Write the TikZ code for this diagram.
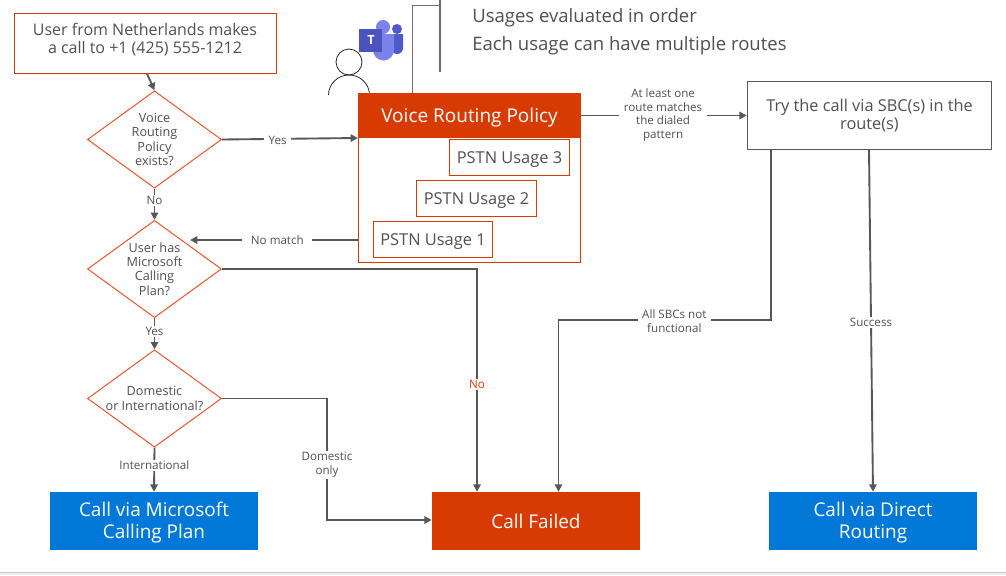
\documentclass[tikz,border=0pt]{standalone}
\usepackage{fontspec}
\setmainfont{Open Sans}
\usetikzlibrary{shapes.geometric,arrows.meta}
\definecolor{lineg}{HTML}{595659}
\definecolor{redor}{HTML}{D83B01}
\definecolor{msblue}{HTML}{0078D7}
\definecolor{txtg}{HTML}{505050}
\definecolor{dred}{HTML}{E8582A}
\definecolor{t1}{HTML}{7B83EB}
\definecolor{t2}{HTML}{5059C9}
\definecolor{t3}{HTML}{4B53BC}
\newcommand{\lowered}[2]{\raisebox{-#1}[0pt][0pt]{#2}}
\tikzset{
 boxtext/.style={text=txtg,font=\fontsize{12}{14}\selectfont,align=center,inner sep=0pt,yshift=3pt},
 decide/.style={diamond,draw=dred,line width=0.75pt,fill=white,inner sep=0pt,minimum width=100.5pt,minimum height=73pt},
 decidetext/.style={text=txtg,font=\fontsize{9.5}{10.8}\selectfont,align=center,inner sep=0pt},
 flow/.style={draw=lineg,line width=1.4pt,-{Triangle[length=5.5pt,width=5.5pt]}},
 lab/.style={fill=white,text=txtg,font=\fontsize{8.7}{10.2}\selectfont,align=center,inner xsep=3.5pt,inner ysep=1pt,yshift=-1pt},
 term/.style={fill=#1,inner sep=0pt,minimum width=156pt,minimum height=43.5pt},
 termtext/.style={text=white,font=\fontsize{14.2}{16.6}\selectfont,align=center,inner sep=0pt,yshift=-1.1pt},
 usage/.style={draw=redor,line width=0.75pt,fill=white,text=txtg,font=\fontsize{12.3}{14}\selectfont,inner sep=0pt,minimum width=89.5pt,minimum height=26.5pt},
}
\begin{document}
\begin{tikzpicture}[x=0.75pt,y=-0.75pt]
\useasboundingbox (0,0) rectangle (1006,575);
\fill[white] (0,0) rectangle (1006,575);
\fill[black!6] (0,572) rectangle (1006,575);
\draw[black!22,line width=0.75pt] (0,572) -- (1006,572);
% bracket and note
\draw[gray!85!black,line width=0.8pt] (412.5,93) -- (412.5,5.5) -- (440,5.5);
\draw[gray!85!black,line width=1pt] (440,0) -- (440,72);
\node[anchor=west,text=txtg,font=\fontsize{13.9}{21}\selectfont,align=left,inner sep=0pt] (note) at (472,32) {Usages evaluated in order\\Each usage can have multiple routes};
% person
\draw[black!85,line width=0.6pt] (349,62) circle (13);
\draw[black!85,line width=0.6pt] (328.5,95) arc[start angle=180,end angle=360,x radius=20.5,y radius=20];
% teams icon
\fill[t2] (392,34) -- (403,34) -- (403,48) arc[start angle=0,end angle=180,radius=6] -- cycle;
\fill[t2] (397,29) circle (5);
\fill[t1] (373,34) -- (394,34) -- (394,50) arc[start angle=0,end angle=180,radius=10.5] -- cycle;
\fill[t1] (383,27) circle (7);
\fill[t3] (359,29) -- (382,29) -- (382,52) -- (359,52) -- cycle;
\node[text=white,font=\fontsize{9.5}{9.5}\bfseries\selectfont,inner sep=0pt] (teamsT) at (371,40) {T};
% boxes
\node[draw=redor,line width=0.75pt,fill=white,minimum width=196.5pt,minimum height=44.5pt,inner sep=0pt,
  label={[boxtext]center:User from Netherlands makes\\a call to +1 (425) 555-1212}] (start) at (145,43.5) {};
\node[decide,label={[decidetext]center:Voice\\Routing\\Policy\\exists?}] (d1) at (154.5,139.5) {};
\node[decide,label={[decidetext]center:User has\\Microsoft\\Calling\\Plan?}] (d2) at (154.5,269) {};
\node[decide,label={[decidetext]center:Domestic\\or International?}] (d3) at (154.5,398.5) {};
\node[draw=redor,line width=0.75pt,fill=white,minimum width=166.5pt,minimum height=127pt,inner sep=0pt] (body) at (469.5,178) {};
\node[fill=redor,text=white,font=\fontsize{14.25}{16}\selectfont,minimum width=167pt,minimum height=34pt,inner sep=0pt] (vrp) at (469.5,115.5) {\lowered{5pt}{Voice Routing Policy}};
\node[usage] (u3) at (509.5,157.5) {\lowered{4.4pt}{PSTN Usage 3}};
\node[usage] (u2) at (476.5,198.5) {\lowered{4.4pt}{PSTN Usage 2}};
\node[usage] (u1) at (433,239.5) {\lowered{4.4pt}{PSTN Usage 1}};
\node[draw=lineg,line width=0.6pt,fill=white,text=txtg,font=\fontsize{12.25}{14}\selectfont,align=center,inner sep=0pt,minimum width=183.5pt,minimum height=51.5pt] (try) at (869.5,115.5) {Try the call via SBC(s) in the\\route(s)};
\node[term=msblue,label={[termtext]center:Call via Microsoft\\Calling Plan}] (blue1) at (154,521) {};
\node[term=redor,label={[termtext,yshift=1pt]center:Call Failed}] (fail) at (536,521) {};
\node[term=msblue,label={[termtext]center:Call via Direct\\Routing}] (blue2) at (873,521) {};
% connectors
\draw[flow] (start.south) ++(2,0) -- (d1.north);
\draw[flow] (d1.east) -- (vrp.west |- 0,138) node[lab,pos=.41] (lyes) {Yes};
\draw[flow] (vrp.east) -- (try.west) node[lab,pos=.495,yshift=1.5pt] (lmatch) {At least one\\route matches\\the dialed\\pattern};
\coordinate (nm) at (body.west |- 0,240);
\coordinate (nme) at (190,240);
\draw[flow] (nm) -- (nme) node[lab,pos=.48,inner xsep=6.5pt,yshift=0.7pt] (lnomatch) {No match};
\draw[flow] (d1.south) -- (d2.north) node[lab,pos=.33] (lno1) {No};
\draw[flow] (d2.south) -- (d3.north) node[lab,pos=.38] (lyes2) {Yes};
\draw[flow] (d3.south) -- (blue1.north) node[lab,pos=.37] (lint) {International};
\coordinate (c1) at (477,269);
\draw[flow] (d2.east) -- (c1) -- (c1 |- fail.north) node[lab,pos=.513,text=redor] (lno2) {No};
\coordinate (c2) at (327,398.5);
\coordinate (c3) at (327,520);
\draw[flow] (d3.east) -- (c2) -- (c3) node[lab,pos=.535] (ldom) {Domestic\\only} -- (c3 -| fail.west);
\coordinate (c4) at (771,150);
\coordinate (c5) at (771,320);
\coordinate (c6) at (558.5,320);
\draw[flow] (c4) -- (c5) -- (c6) node[lab,pos=.455] (lsbc) {All SBCs not\\functional} -- (c6 |- fail.north);
\coordinate (c7) at (869,150);
\draw[flow] (c7) -- (blue2.north) node[lab,pos=.5] (lsucc) {Success};
\end{tikzpicture}
\end{document}
